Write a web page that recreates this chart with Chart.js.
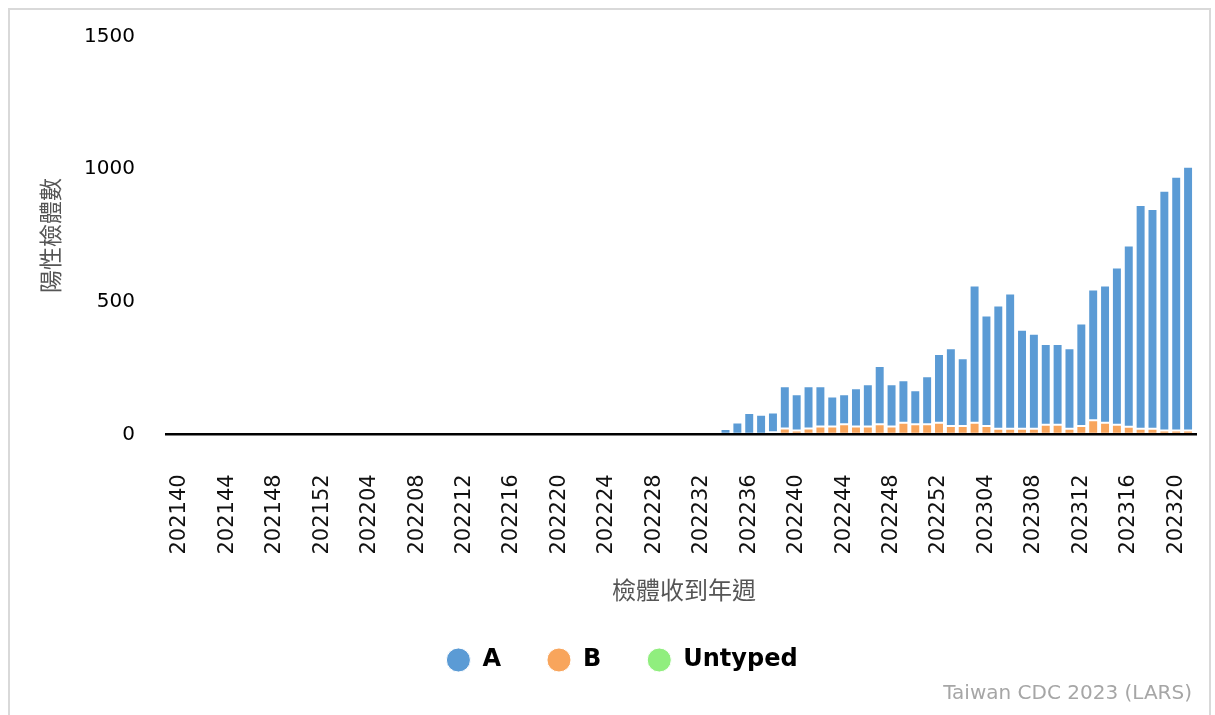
<!DOCTYPE html>
<html>
<head>
<meta charset="utf-8">
<script src="https://cdn.jsdelivr.net/npm/chart.js@4.4.1/dist/chart.umd.min.js"></script>
<style>
  html, body { margin: 0; padding: 0; background: #fff; }
  #wrap { position: relative; width: 1215px; height: 715px; overflow: hidden; }
  #frame { position: absolute; left: 8px; top: 8px; width: 1203px; height: 760px; border: 2px solid #d9d9d9; box-sizing: border-box; pointer-events: none; }
  #cv { position: absolute; left: 0; top: 0; }
  #credit { position: absolute; right: 23px; top: 680px; font-family: "DejaVu Sans", sans-serif; font-size: 20px; color: #a6a6a6; white-space: nowrap; }
</style>
</head>
<body>
<div id="wrap">
  <div id="frame"></div>
  <canvas id="cv" width="1215" height="715"></canvas>
  <div id="credit">Taiwan CDC 2023 (LARS)</div>
</div>
<script>
const weeks = [
  '202140','202141','202142','202143','202144','202145','202146','202147','202148','202149','202150','202151','202152',
  '202201','202202','202203','202204','202205','202206','202207','202208','202209','202210','202211','202212','202213',
  '202214','202215','202216','202217','202218','202219','202220','202221','202222','202223','202224','202225','202226',
  '202227','202228','202229','202230','202231','202232','202233','202234','202235','202236','202237','202238','202239',
  '202240','202241','202242','202243','202244','202245','202246','202247','202248','202249','202250','202251','202252',
  '202301','202302','202303','202304','202305','202306','202307','202308','202309','202310','202311','202312','202313',
  '202314','202315','202316','202317','202318','202319','202320','202321'
];
const seriesA = [
  0,0,0,0,0,0,0,0,0,0,0,0,0,
  0,0,0,0,0,0,0,0,0,0,0,0,0,
  0,0,0,0,0,0,0,0,0,0,0,0,0,
  0,0,0,0,0,0,0,20,45,80,74,74,159,
  137,159,151,113,113,144,159,220,159,160,128,181,259,
  294,256,517,417,465,510,373,358,305,305,304,387,493,
  517,593,683,844,829,904,957,995
];
const seriesB = [
  0,0,0,0,0,0,0,0,0,0,0,0,0,
  0,0,0,0,0,0,0,0,0,0,0,5,0,
  0,0,0,0,0,0,0,0,0,0,0,0,0,
  0,0,0,0,0,0,0,0,0,0,0,8,22,
  14,22,30,30,38,30,30,38,30,44,38,38,44,
  31,31,44,31,21,21,21,21,36,36,21,31,53,
  44,36,29,21,21,14,14,14
];
const seriesUntyped = [
  0,0,0,0,0,0,0,0,0,0,0,0,0,
  0,0,0,0,0,0,0,0,0,0,0,0,0,
  0,0,0,0,0,0,0,0,0,0,0,0,0,
  0,0,0,0,0,0,0,0,0,0,0,0,0,
  0,0,0,0,0,0,0,0,0,0,0,0,0,
  0,0,0,0,0,0,0,0,0,0,0,0,0,
  0,0,0,0,0,0,0,0
];
const yTicks = [0, 500, 1000, 1500];
const yTitle = '陽性檢體數';
const xTitle = '檢體收到年週';

const baseline = {
  id: 'baseline',
  afterDatasetsDraw(chart) {
    const {ctx, chartArea, scales} = chart;
    const y0 = scales.y.getPixelForValue(0);
    ctx.save();
    ctx.strokeStyle = '#000';
    ctx.lineWidth = 2.5;
    ctx.beginPath();
    ctx.moveTo(chartArea.left - 9, y0);
    ctx.lineTo(chartArea.right + 3, y0);
    ctx.stroke();
    ctx.restore();
  }
};

const barCommon = {
  borderColor: '#ffffff',
  borderWidth: 1,
  borderSkipped: false,
  barPercentage: 0.84,
  categoryPercentage: 1.0
};

new Chart(document.getElementById('cv'), {
  type: 'bar',
  data: {
    labels: weeks,
    datasets: [
      Object.assign({ label: 'Untyped', data: seriesUntyped, backgroundColor: '#90ee7e' }, barCommon),
      Object.assign({ label: 'B', data: seriesB, backgroundColor: '#f8a55c' }, barCommon),
      Object.assign({ label: 'A', data: seriesA, backgroundColor: '#5b9bd5' }, barCommon)
    ]
  },
  plugins: [baseline],
  options: {
    responsive: false,
    animation: false,
    devicePixelRatio: 1,
    layout: { padding: { left: 50, right: 21, top: 36.5, bottom: 33 } },
    plugins: {
      legend: {
        position: 'bottom',
        reverse: true,
        labels: {
          usePointStyle: true,
          pointStyle: 'circle',
          boxWidth: 24,
          boxHeight: 17,
          padding: 46,
          color: '#000',
          font: { family: 'DejaVu Sans', size: 24, weight: 'bold' }
        }
      },
      tooltip: { enabled: false }
    },
    scales: {
      x: {
        stacked: true,
        offset: true,
        afterFit: function(scale) { scale.paddingLeft = 0; scale.paddingRight = 0; },
        grid: { display: true, color: 'rgba(0,0,0,0)', drawOnChartArea: false, drawTicks: true, tickLength: 30 },
        border: { display: false },
        ticks: {
          autoSkip: false,
          maxRotation: 90,
          minRotation: 90,
          padding: 10,
          color: '#111',
          font: { family: 'DejaVu Sans', size: 21 },
          callback: function(value, index) { return index % 4 === 0 ? weeks[index] : ''; }
        },
        title: {
          display: true,
          text: xTitle,
          color: '#555',
          font: { family: 'Noto Sans CJK TC', size: 24 },
          padding: { top: 11.1, bottom: -2.4 }
        }
      },
      y: {
        stacked: true,
        min: 0,
        max: 1500,
        afterBuildTicks: function(scale) { scale.ticks = yTicks.map(v => ({ value: v })); },
        grid: { display: true, color: 'rgba(0,0,0,0)', drawOnChartArea: false, drawTicks: true, tickLength: 30 },
        border: { display: false },
        ticks: {
          padding: 9,
          color: '#000',
          font: { family: 'DejaVu Sans', size: 20 },
          callback: function(value) { return String(value); }
        },
        title: {
          display: true,
          text: yTitle,
          color: '#555',
          font: { family: 'Noto Sans CJK TC', size: 23 },
          padding: { top: -13.8, bottom: 11.3 }
        }
      }
    }
  }
});
</script>
</body>
</html>
